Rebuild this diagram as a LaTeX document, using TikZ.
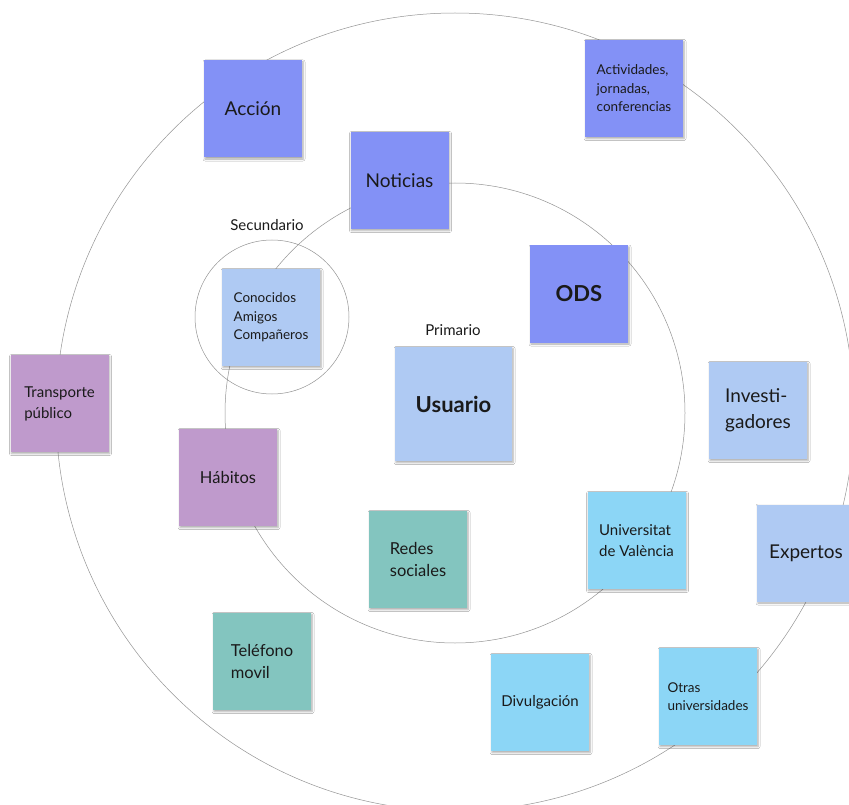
\documentclass[tikz,border=0pt]{standalone}
\usepackage{fontspec}
\setmainfont{Lato}
\usetikzlibrary{shadows.blur}

\definecolor{periwinkle}{HTML}{8391F6}
\definecolor{paleblue}{HTML}{AFCAF3}
\definecolor{lilac}{HTML}{BF9ACC}
\definecolor{teal}{HTML}{83C5BF}
\definecolor{skyblue}{HTML}{8CD6F6}
\definecolor{ink}{HTML}{1A1A1A}

\begin{document}
\begin{tikzpicture}
        [x=1pt, y=-1pt,
        note/.style={rectangle, minimum width=98pt, minimum height=97pt, inner sep=0pt,
            align=left, text=ink,
            blur shadow={shadow xshift=1pt, shadow yshift=-1.5pt, shadow blur radius=2pt, shadow opacity=35}},
        ring/.style={draw=black!42, line width=0.5pt},
        label/.style={text=ink, font=\fontsize{15}{18}\selectfont},
        txtL/.style={font=\fontsize{19}{26}\selectfont},
        txtM/.style={font=\fontsize{16.5}{22.5}\selectfont},
        txtN/.style={font=\fontsize{15}{21}\selectfont},
        txtS/.style={font=\fontsize{13.5}{18.5}\selectfont},
        txtB/.style={font=\fontsize{22}{26}\selectfont\bfseries}]

        \clip (0,0) rectangle (849,805);
        \fill[white] (0,0) rectangle (849,805);

        % Rings
        \coordinate (Oext) at (455,412);
        \coordinate (Oprim) at (455,413);
        \coordinate (Osec) at (272,317);
        \draw[ring] (Oext) circle (399);
        \draw[ring] (Oprim) circle (230);
        \draw[ring] (Osec) circle (77);

        % Ring labels
        \node[label] (primario) at (453,330) {Primario};
        \node[label] (secundario) at (267,225) {Secundario};

        % Periwinkle notes
        \node[note, fill=periwinkle, txtL] (accion) at (253,109) {Acción};
        \node[note, fill=periwinkle, txtS] (actividades) at (634,88.5) {Actividades,\\jornadas,\\conferencias};
        \node[note, fill=periwinkle, txtL] (noticias) at (399.5,180.5) {Noticias};
        \node[note, fill=periwinkle, txtB] (ods) at (579,294) {ODS};

        % Pale blue notes
        \node[note, fill=paleblue, txtS] (conocidos) at (271,317.5) {Conocidos\\Amigos\\Compañeros};
        \node[note, fill=paleblue, txtB, minimum width=117pt, minimum height=114pt] (usuario) at (453.5,404) {Usuario};
        \node[note, fill=paleblue, txtL] (investigadores) at (758,410.5) {Investi-\\gadores};
        \node[note, fill=paleblue, txtL] (expertos) at (806,553) {Expertos};

        % Lilac notes
        \node[note, fill=lilac, txtN] (transporte) at (59.5,403.5) {Transporte\\público};
        \node[note, fill=lilac, txtM] (habitos) at (228,477.5) {Hábitos};

        % Teal notes
        \node[note, fill=teal, txtM] (redes) at (418,559.5) {Redes\\sociales};
        \node[note, fill=teal, txtM] (telefono) at (262,661.5) {Teléfono\\movil};

        % Sky blue notes
        \node[note, fill=skyblue, txtN] (universitat) at (636.5,540.5) {Universitat\\de València};
        \node[note, fill=skyblue, txtN] (divulgacion) at (540,702.5) {Divulgación};
        \node[note, fill=skyblue, txtS] (otras) at (708,696.5) {Otras\\universidades};

    \end{tikzpicture}
\end{document}
